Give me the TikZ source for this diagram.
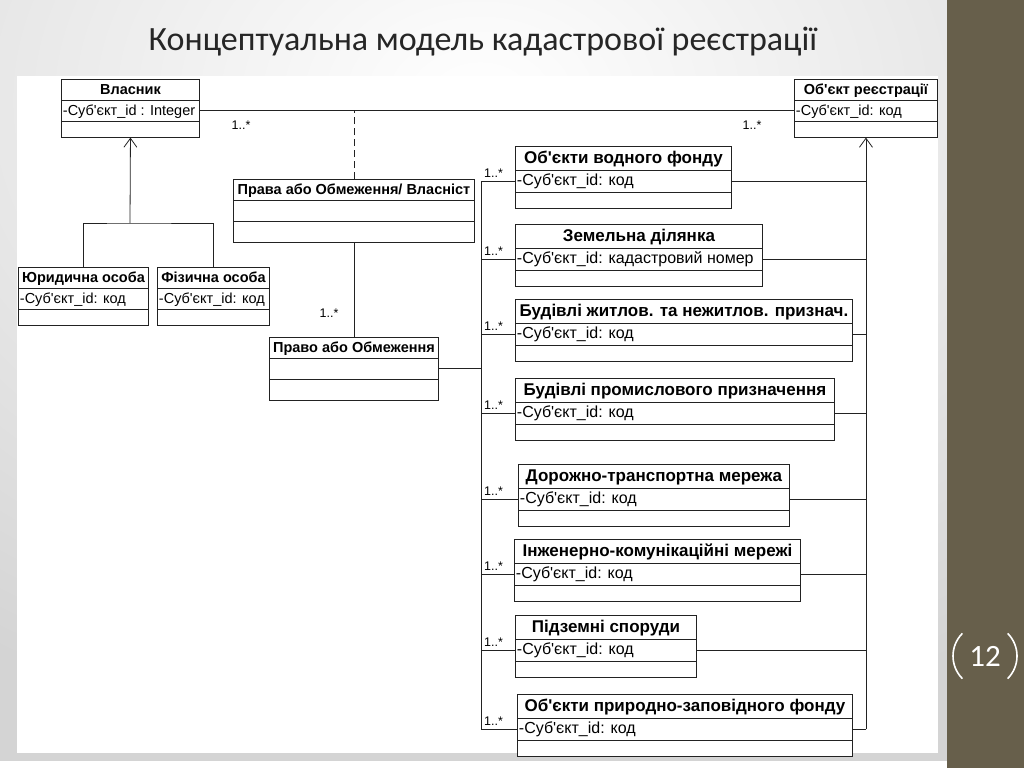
\documentclass[tikz,border=0pt]{standalone}
\usepackage{fontspec}
\setmainfont{Liberation Sans}[Ligatures=TeXOff]
\newfontfamily\titlefont{Carlito}
\usetikzlibrary{shapes.multipart,arrows.meta}
\definecolor{bar}{HTML}{675F4B}
\definecolor{linija}{HTML}{222222}
% row struts for the class boxes
\newcommand{\hdS}{\rule[-5.5pt]{0pt}{20pt}}
\newcommand{\lwS}{\rule{0pt}{15pt}}
\newcommand{\hdL}{\rule[-6.5pt]{0pt}{23pt}}
\newcommand{\atL}{\rule[-6pt]{0pt}{21pt}}
% header and attribute rows: width, text
\newcommand{\glS}[2]{\hdS\makebox[#1pt]{\bfseries #2}}
\newcommand{\atS}[2]{\hdS\makebox[#1pt][l]{#2}}
\newcommand{\glL}[2]{\hdL\makebox[#1pt]{\fontsize{17}{19}\selectfont\bfseries #2}}
\newcommand{\atrL}[2]{\atL\makebox[#1pt][l]{#2}}
\begin{document}
\begin{tikzpicture}
  [x=1pt,y=-1pt,every node/.style={inner sep=0pt},
   klasa/.style={draw=linija,line width=0.9pt,fill=white,rectangle split,
     rectangle split parts=3,anchor=north west,inner xsep=1.5pt,inner ysep=0pt},
   mala/.style={klasa,font=\fontsize{14.5}{16}\selectfont},
   velyka/.style={klasa,font=\fontsize{16}{18}\selectfont}]
  \tikzstyle{zviazok} = [draw=linija,line width=0.8pt]
  \tikzstyle{mult} = [font=\fontsize{12.5}{14}\selectfont,inner sep=1pt]
  \useasboundingbox (0,0) rectangle (1024,768);
  \begin{scope}
    \clip (0,0) rectangle (947,768);
    \shade[inner color=white,outer color=black!17] (-420,-560) rectangle (1380,760);
  \end{scope}
  \fill[white] (17,76) rectangle (938,753);
  \fill[bar] (947,0) rectangle (1024,768);
  \node[font=\titlefont\fontsize{34}{40}\selectfont,text=black!85] (nazva) at (483,42)
    {Концептуальна модель кадастрової реєстрації};
  \node[font=\titlefont\fontsize{31}{36}\selectfont,text=white] (nomer) at (985,656) {12};
  \draw[white,line width=1.6pt] ([shift={(135:32pt)}]nomer.center) arc[start angle=135,end angle=225,radius=32pt];
  \draw[white,line width=1.6pt] ([shift={(-45:32pt)}]nomer.center) arc[start angle=-45,end angle=45,radius=32pt];
  % left part
  \node[mala] (vlasnyk) at (61,79)
    {\glS{135}{Власник}\nodepart{two}\atS{135}{-Суб'єкт\_id : Integer}\nodepart{three}\lwS};
  \node[mala] (yuryd) at (18,267)
    {\glS{127}{Юридична особа}\nodepart{two}\atS{127}{-Суб'єкт\_id: код}\nodepart{three}\lwS};
  \node[mala] (fizych) at (157,267)
    {\glS{109}{Фізична особа}\nodepart{two}\atS{109}{-Суб'єкт\_id: код}\nodepart{three}\lwS};
  \node[mala] (pravavl) at (233,179)
    {\glS{238}{Права або Обмеження/ Власніст}\nodepart{two}\hdS\nodepart{three}\hdS};
  \node[mala] (pravo) at (269,337)
    {\glS{166}{Право або Обмеження}\nodepart{two}\hdS\nodepart{three}\hdS};
  \node[mala] (obyekt) at (794,79)
    {\glS{140}{Об'єкт реєстрації}\nodepart{two}\atS{140}{-Суб'єкт\_id: код}\nodepart{three}\lwS};
  % objects of registration
  \node[velyka] (vodnyi) at (515,146)
    {\glL{213}{Об'єкти водного фонду}\nodepart{two}\atrL{213}{-Суб'єкт\_id: код}\nodepart{three}\lwS};
  \node[velyka] (zemel) at (515,224)
    {\glL{244}{Земельна ділянка}\nodepart{two}\atrL{244}{-Суб'єкт\_id: кадастровий номер}\nodepart{three}\lwS};
  \node[velyka] (zhytl) at (515,299)
    {\glL{334}{Будівлі житлов. та нежитлов. признач.}\nodepart{two}\atrL{334}{-Суб'єкт\_id: код}\nodepart{three}\lwS};
  \node[velyka] (promysl) at (515,378)
    {\glL{316}{Будівлі промислового призначення}\nodepart{two}\atrL{316}{-Суб'єкт\_id: код}\nodepart{three}\lwS};
  \node[velyka] (doroga) at (518,464)
    {\glL{268}{Дорожно-транспортна мережа}\nodepart{two}\atrL{268}{-Суб'єкт\_id: код}\nodepart{three}\lwS};
  \node[velyka] (inzhener) at (514,539)
    {\glL{283}{Інженерно-комунікаційні мережі}\nodepart{two}\atrL{283}{-Суб'єкт\_id: код}\nodepart{three}\lwS};
  \node[velyka] (pidzemni) at (515,615)
    {\glL{178}{Підземні споруди}\nodepart{two}\atrL{178}{-Суб'єкт\_id: код}\nodepart{three}\lwS};
  \node[velyka] (zapovid) at (517,694)
    {\glL{332}{Об'єкти природно-заповідного фонду}\nodepart{two}\atrL{332}{-Суб'єкт\_id: код}\nodepart{three}\lwS};
  % connectors
  \coordinate (bus) at (481,0);
  \coordinate (gen) at (130,223);
  \draw[zviazok] (vlasnyk.two east) -- (obyekt.two west);
  \draw[zviazok,dash pattern=on 7pt off 4pt] (pravavl.north) -- (pravavl.north |- vlasnyk.two east);
  \draw[zviazok] (pravavl.south) -- (pravo.north);
  \draw[zviazok] (yuryd.north) |- (gen) -| (fizych.north);
  \draw[zviazok,-{Straight Barb[length=9pt,width=13pt]}] (gen) -- (vlasnyk.south);
  \draw[zviazok] (pravo.two east) -- (pravo.two east -| bus);
  \draw[zviazok] (vodnyi.two west -| bus) -- (zapovid.two west -| bus);
  \draw[zviazok,-{Straight Barb[length=9pt,width=13pt]}] (zapovid.two east -| obyekt.south) -- (obyekt.south);
\foreach \b in {vodnyi,zemel,zhytl,promysl,doroga,inzhener,pidzemni,zapovid}
  {\draw[zviazok] (\b.two west -| bus) -- (\b.two west);
   \draw[zviazok] (\b.two east) -- (\b.two east -| obyekt.south);
   \path (\b.two west -| bus) node[mult,anchor=south west,xshift=2pt,yshift=3pt] (m-\b) {1..*};}
  \node[mult] (m-vlasnyk) at (241,125) {1..*};
  \node[mult] (m-obyekt) at (752,125) {1..*};
  \node[mult] (m-pravo) at (329,313) {1..*};
\end{tikzpicture}
\end{document}
